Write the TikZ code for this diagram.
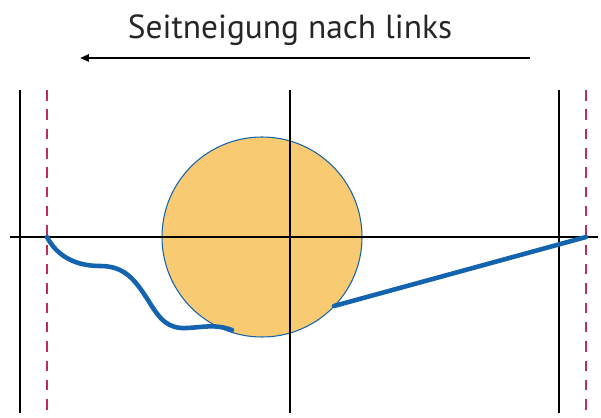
\documentclass[tikz,border=0pt]{standalone}
\usepackage{fontspec}
\setmainfont{PT Sans}
\usetikzlibrary{arrows.meta}
\definecolor{ballgelb}{HTML}{F8CB72}
\definecolor{linienblau}{HTML}{1463AE}
\definecolor{grenzrot}{HTML}{BE2D55}
\begin{document}
\begin{tikzpicture}[x=0.02cm, y=-0.02cm, line join=round, line cap=butt,
        >={Triangle[length=5pt,width=4pt]},
        grenze/.style={grenzrot, line width=1.2pt, dash pattern=on 6pt off 5pt},
        pfosten/.style={black, line width=1.2pt},
        kurve/.style={linienblau, line width=2.6pt, line cap=round}]
        \useasboundingbox (0,0) rectangle (601,418);
        \def \yachse{237}
        \def \ytop{90}
        \def \ybot{413}
        % title and direction arrow
        \node[font=\fontsize{19}{22}\selectfont, text=black!85] (titel) at (290,30) {Seitneigung nach links};
        \coordinate (pfeilA) at (530,58);
        \coordinate (pfeilB) at (80,58);
        \draw[->, line width=1.3pt] (pfeilA) -- (pfeilB);
        % ball
        \coordinate (ball) at (262,\yachse);
        \fill[ballgelb] (ball) circle(100);
        \draw[linienblau, line width=0.6pt] (ball) circle(100);
        % axes and posts
        \draw[pfosten] (10,\yachse) -- (598,\yachse);
        \draw[pfosten] (20,\ytop) -- (20,\ybot);
        \draw[pfosten] (290,\ytop) -- (290,\ybot);
        \draw[pfosten] (559,\ytop) -- (559,\ybot);
        \draw[grenze] (47,\ytop) -- (47,\ybot);
        \draw[grenze] (586,\ytop) -- (586,\ybot);
        % track of the ball
        \draw[kurve] (47,\yachse) .. controls (58,258) and (78,266) .. (100,266)
            .. controls (125,266) and (135,280) .. (148,300)
            .. controls (160,320) and (168,329) .. (187,328)
            .. controls (205,327) and (215,324) .. (232,330);
        \draw[kurve] (334,306) -- (586,\yachse);
    \end{tikzpicture}
\end{document}
